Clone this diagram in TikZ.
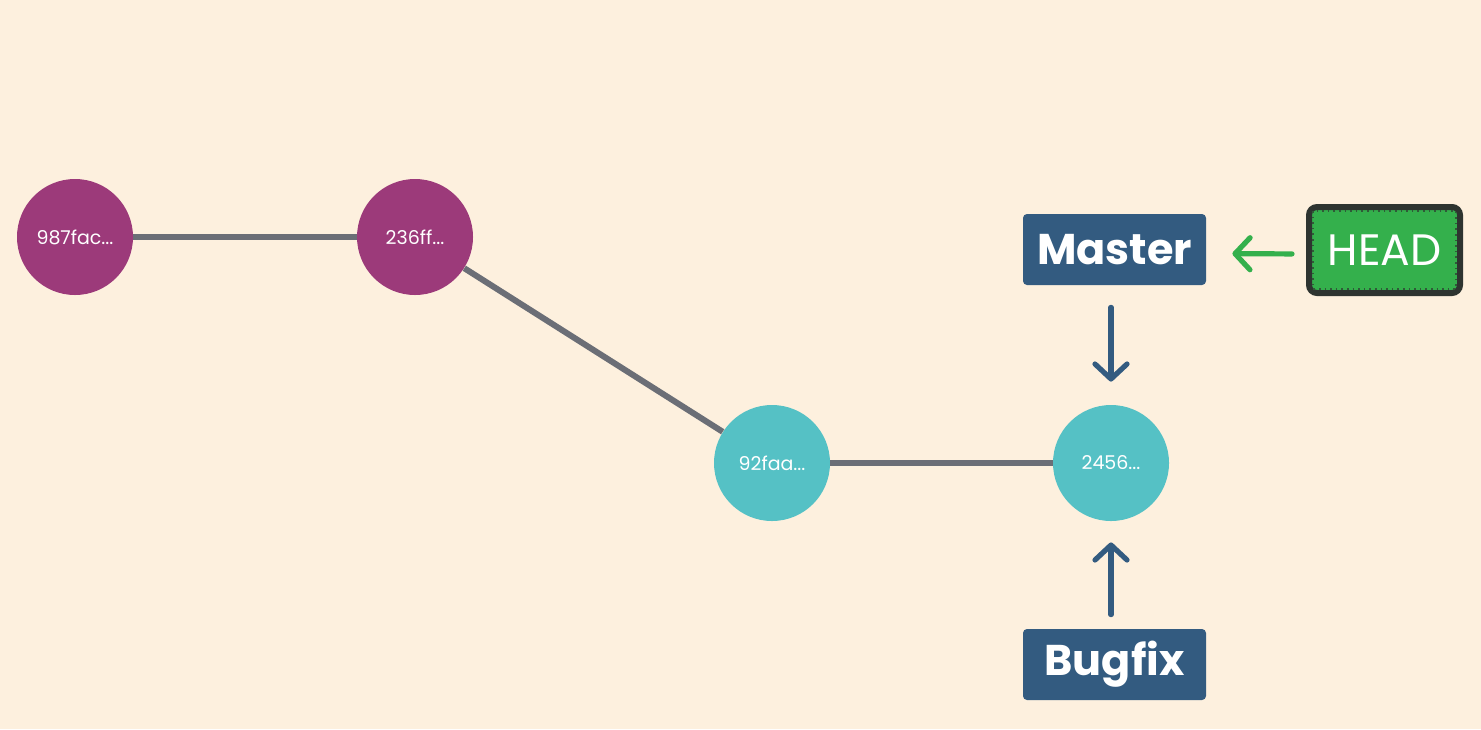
\documentclass[tikz,border=0pt]{standalone}
\usepackage{fontspec}
\setmainfont{Poppins}
\usepackage{tikz}
\usetikzlibrary{arrows.meta}
\definecolor{bgcol}{HTML}{FDF0DE}
\definecolor{oldcol}{HTML}{9C3A7A}
\definecolor{newcol}{HTML}{55C1C5}
\definecolor{edgecol}{HTML}{6B6E76}
\definecolor{branchcol}{HTML}{335B80}
\definecolor{headcol}{HTML}{34B04C}
\definecolor{headline}{HTML}{2E3430}

\begin{document}
\begin{tikzpicture}[x=0.5pt, y=-0.5pt,
    commit/.style={circle, minimum size=58pt, inner sep=0pt, text=white,
                   font=\fontsize{9.5}{11}\selectfont},
    branch/.style={fill=branchcol, rounded corners=2pt, minimum width=91.5pt,
                   minimum height=35.5pt, inner sep=0pt, text=white,
                   font=\fontsize{21.5}{24}\selectfont\bfseries},
    link/.style={line width=3pt, draw=edgecol},
    ptr/.style={line width=2.6pt, line cap=round,
                -{Straight Barb[length=7.5pt, width=16pt, line cap=round, line join=round]}}]

    % ── Canvas ────────────────────────────────────────────────────────────────
    \fill[bgcol] (0,0) rectangle (1481,729);
    \useasboundingbox (0,0) rectangle (1481,729);

    % ── Commits ───────────────────────────────────────────────────────────────
    \node[commit, fill=oldcol] (c1) at (75,237)   {987fac...};
    \node[commit, fill=oldcol] (c2) at (415,237)  {236ff...};
    \node[commit, fill=newcol] (c3) at (772,463)  {92faa...};
    \node[commit, fill=newcol] (c4) at (1111,463) {2456...};

    \draw[link] (c1) -- (c2);
    \draw[link] (c2) -- (c3);
    \draw[link] (c3) -- (c4);

    % ── Branch labels ─────────────────────────────────────────────────────────
    \node[branch] (master) at (1114.5,249.5) {Master};
    \node[branch] (bugfix) at (1114.5,664.5) {Bugfix};

    \draw[ptr, branchcol, shorten <=11pt, shorten >=11.5pt]
        (master.south -| c4) -- (c4.north);
    \draw[ptr, branchcol, shorten <=7pt, shorten >=10.5pt]
        (bugfix.north -| c4) -- (c4.south);

    % ── HEAD pointer ──────────────────────────────────────────────────────────
    \node[fill=headcol, draw=headline, line width=3pt, rounded corners=4pt,
          minimum width=75.5pt, minimum height=43pt, inner sep=0pt,
          text=white, font=\fontsize{22}{24}\selectfont] (head) at (1384.5,250) {HEAD};
    \draw[headline!70!headcol, line width=0.8pt, dotted]
        ([shift={(3.5pt,-3.5pt)}]head.north west) rectangle ([shift={(-3.5pt,3.5pt)}]head.south east);

    \draw[ptr, headcol, shorten <=7pt, shorten >=13pt]
        ([yshift=-2pt]head.west) -- ([yshift=-2pt]master.east);

\end{tikzpicture}
\end{document}
